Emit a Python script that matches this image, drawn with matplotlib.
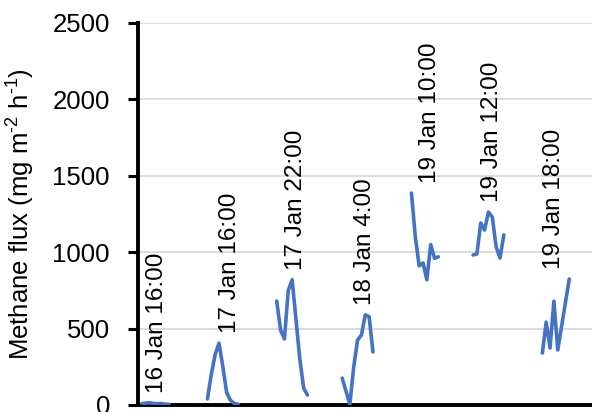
import numpy as np
import matplotlib
matplotlib.use("Agg")
import matplotlib.pyplot as plt

# Methane flux measurement campaigns (mg m-2 h-1), one run of readings per campaign
campaigns = ["16 Jan 16:00", "17 Jan 16:00", "17 Jan 22:00", "18 Jan 4:00",
             "19 Jan 10:00", "19 Jan 12:00", "19 Jan 18:00"]
run_start = [0, 17, 35, 52, 70, 86, 104]          # first reading number of each run
label_at = [3, 22, 39, 57, 74, 90, 106]           # reading that carries the run's label

flux_1601 = [10, 12, 15, 10, 8, 10, 5, 5]
flux_1716 = [40, 200, 330, 405, 250, 80, 30, 10, 5]
flux_1722 = [680, 490, 432, 750, 820, 560, 300, 110, 65]
flux_1804 = [176, 90, 5, 250, 425, 458, 590, 578, 347]
flux_1910 = [1387, 1100, 910, 930, 820, 1050, 960, 970]
flux_1912 = [982, 988, 1191, 1145, 1263, 1230, 1034, 962, 1113]
flux_1918 = [340, 543, 373, 680, 360, 515, 670, 825]
runs = [flux_1601, flux_1716, flux_1722, flux_1804, flux_1910, flux_1912, flux_1918]

y_ticks = [0, 500, 1000, 1500, 2000, 2500]

# Build one series with gaps between the runs
n_total = run_start[-1] + len(runs[-1])
series = np.full(n_total, np.nan)
for start, vals in zip(run_start, runs):
    series[start:start + len(vals)] = vals
reading = np.arange(n_total)

plt.rcParams["font.family"] = ["Liberation Sans", "DejaVu Sans"]
plt.rcParams["mathtext.fontset"] = "custom"
plt.rcParams["mathtext.rm"] = "Liberation Sans"
plt.rcParams["mathtext.it"] = "Liberation Sans:italic"

fig = plt.figure(figsize=(5.92, 4.12), dpi=100)
ax = fig.add_axes([138 / 592, 7 / 412, 1 - 138 / 592, 382 / 412])

ax.plot(reading, series, color="#4472C4", lw=2.6, solid_joinstyle="round",
        solid_capstyle="round", zorder=3)

for name, idx, start, vals in zip(campaigns, label_at, run_start, runs):
    ax.annotate(name, xy=(idx, max(vals)), xytext=(2.5, 7), textcoords="offset points",
                rotation=90, ha="center", va="bottom", fontsize=17.5, color="black")

ax.set_xlim(-1.04, 116.9)
ax.set_ylim(0, 2500)
ax.set_yticks(y_ticks)
ax.set_yticklabels([str(t) for t in y_ticks], fontsize=18.5)
ax.tick_params(axis="y", direction="out", length=7.2, width=2.2, pad=13, color="black")
ax.set_xticks([])
ax.grid(axis="y", color="#d9d9d9", lw=1.3, zorder=0)
ax.set_axisbelow(True)

for side in ("top", "right"):
    ax.spines[side].set_visible(False)
for side in ("left", "bottom"):
    ax.spines[side].set_linewidth(2.8)
    ax.spines[side].set_color("black")

ax.set_ylabel(r"Methane flux (mg m$^{\text{-2}}$ h$^{\text{-1}}$)", fontsize=18.5)
ax.yaxis.set_label_coords(-(138 - 37) / 454, 0.5)

fig.savefig("out.png", dpi=100)
